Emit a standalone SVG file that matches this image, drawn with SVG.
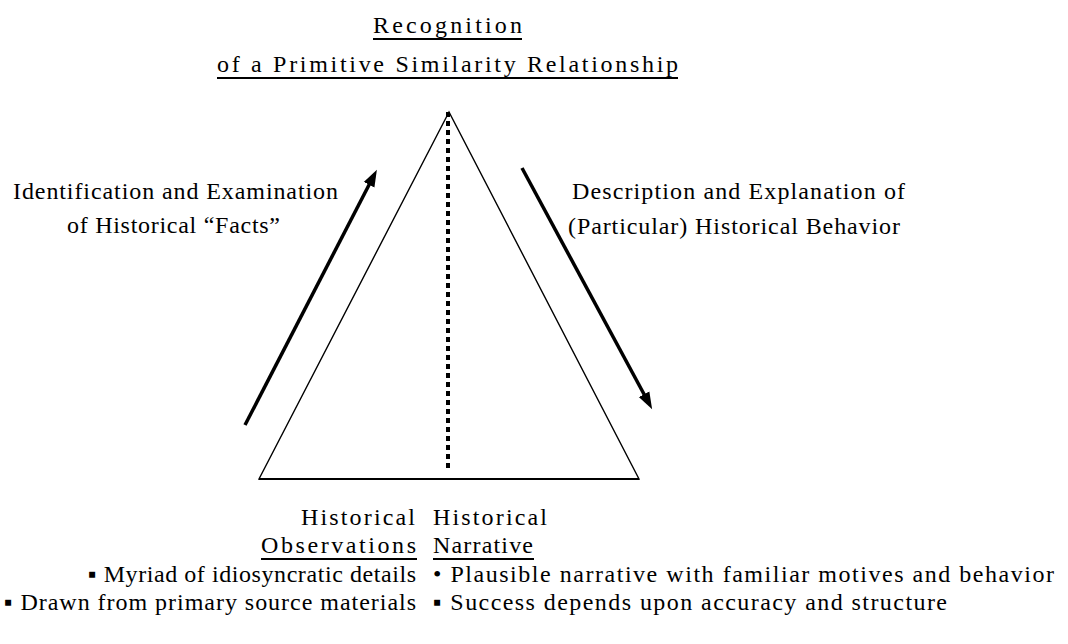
<svg xmlns="http://www.w3.org/2000/svg" width="1068" height="644" viewBox="0 0 1068 644">
<style>
text{font-family:'Liberation Serif','Tinos','DejaVu Serif','Noto Serif',serif;font-size:24px;fill:#000}
.ul{stroke:#000;stroke-width:2}
.arr{stroke:#000;stroke-width:3.5;fill:none;marker-end:url(#ah)}
</style>
<defs>
<marker id="ah" markerUnits="userSpaceOnUse" markerWidth="20" markerHeight="16" refX="2" refY="7" orient="auto">
<path d="M0,1 L17,7 L0,13 Z" fill="#000"/>
</marker>
</defs>
<rect width="1068" height="644" fill="#fff"/>
<g id="title">
<text x="447.5" y="33" text-anchor="middle" textLength="149" lengthAdjust="spacing">Recognition</text>
<line class="ul" x1="373" y1="39" x2="522" y2="39"/>
<text x="447.5" y="72" text-anchor="middle" textLength="461" lengthAdjust="spacing">of a Primitive Similarity Relationship</text>
<line class="ul" x1="217" y1="78" x2="678" y2="78"/>
</g>
<g id="triangle">
<polygon points="449,112 259,479 639,479" fill="none" stroke="#000" stroke-width="1.4"/>
<line x1="639" y1="479" x2="259" y2="479" stroke="#000" stroke-width="2"/>
<line x1="448" y1="112" x2="448" y2="472" stroke="#000" stroke-width="4" stroke-dasharray="5,4"/>
</g>
<g id="connectors">
<line class="arr" x1="245" y1="425" x2="370" y2="183"/>
<line class="arr" x1="522" y1="168" x2="645" y2="396"/>
</g>
<g id="left-label">
<text x="13" y="199" textLength="325" lengthAdjust="spacing">Identification and Examination</text>
<text x="67" y="233" textLength="213" lengthAdjust="spacing">of Historical “Facts”</text>
</g>
<g id="right-label">
<text x="572" y="199" textLength="333" lengthAdjust="spacing">Description and Explanation of</text>
<text x="568" y="234" textLength="332" lengthAdjust="spacing">(Particular) Historical Behavior</text>
</g>
<g id="observations">
<text x="301" y="525" textLength="114" lengthAdjust="spacing">Historical</text>
<text x="261" y="553" textLength="155" lengthAdjust="spacing">Observations</text>
<line class="ul" x1="261" y1="559" x2="417" y2="559"/>
<text x="88" y="582" textLength="328" lengthAdjust="spacing">▪ Myriad of idiosyncratic details</text>
<text x="4" y="610" textLength="412" lengthAdjust="spacing">▪ Drawn from primary source materials</text>
</g>
<g id="narrative">
<text x="433" y="525" textLength="114" lengthAdjust="spacing">Historical</text>
<text x="433" y="553" textLength="100" lengthAdjust="spacing">Narrative</text>
<line class="ul" x1="433" y1="559" x2="534" y2="559"/>
<text x="433" y="582" textLength="621" lengthAdjust="spacing">• Plausible narrative with familiar motives and behavior</text>
<text x="433" y="610" textLength="514" lengthAdjust="spacing">▪ Success depends upon accuracy and structure</text>
</g>
</svg>
